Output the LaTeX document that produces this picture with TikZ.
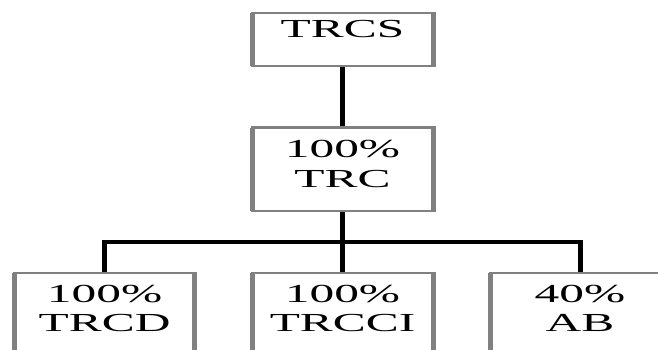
\documentclass[tikz,border=0pt]{standalone}
\usepackage{graphicx}
\usepackage{fontspec}
\setmainfont{Liberation Serif}
\definecolor{boxgray}{RGB}{128,128,128}
\tikzset{
  box/.style={rectangle, draw=boxgray, line width=2.5pt, inner sep=0pt, outer sep=0pt, minimum width=181pt},
  side/.style={draw=boxgray, line width=5pt, shorten <=-1.25pt, shorten >=-1.25pt},
  conn/.style={draw=black, line width=5pt},
  barline/.style={draw=black, line width=3.3pt},
  lbl/.style={anchor=base, inner sep=0pt, font=\fontsize{26}{29.3}\selectfont}
}
\newcommand\widetext[1]{\scalebox{1.9}[1]{\begin{tabular}[t]{@{}c@{}}#1\end{tabular}}}
\begin{document}
\begin{tikzpicture}[x=1pt,y=-1pt]
\useasboundingbox (0,0) rectangle (658,349);
\clip (0,0) rectangle (658,349);
% boxes
\node[box, minimum height=53pt] (trcs) at (342.5,39.5) {};
\node[box, minimum height=83.5pt] (trc) at (342.5,169.25) {};
\node[box, minimum width=180pt, minimum height=130pt] (trcd) at (104.6,338) {};
\node[box, minimum height=130pt] (trcci) at (342.5,338) {};
\node[box, minimum width=180pt, minimum height=130pt] (ab) at (580,338) {};
\foreach \n in {trcs,trc,trcd,trcci,ab}
  \draw[side] (\n.north west) -- (\n.south west) (\n.north east) -- (\n.south east);
% connectors
\coordinate (bar) at (342.5,242);
\draw[conn, shorten <=1.25pt, shorten >=1.25pt] (trcs.south) -- (trc.north);
\draw[conn, shorten <=1.25pt, shorten >=1.25pt] (trc.south) -- (trcci.north);
\draw[barline] (trcd.north |- bar) -- (ab.north |- bar);
\draw[conn, shorten <=-1.65pt, shorten >=1.25pt] (trcd.north |- bar) -- (trcd.north);
\draw[conn, shorten <=-1.65pt, shorten >=1.25pt] (ab.north |- bar) -- (ab.north);
% labels
\node[lbl] (trcs-t) at (342.5,37.7) {\widetext{TRCS}};
\node[lbl] (trc-t) at (342.5,157.7) {\widetext{100\%\\TRC}};
\node[lbl] (trcd-t) at (104.6,302) {\widetext{100\%\\TRCD}};
\node[lbl] (trcci-t) at (342.5,302) {\widetext{100\%\\TRCCI}};
\node[lbl] (ab-t) at (580,302) {\widetext{40\%\\AB}};
\end{tikzpicture}
\end{document}
